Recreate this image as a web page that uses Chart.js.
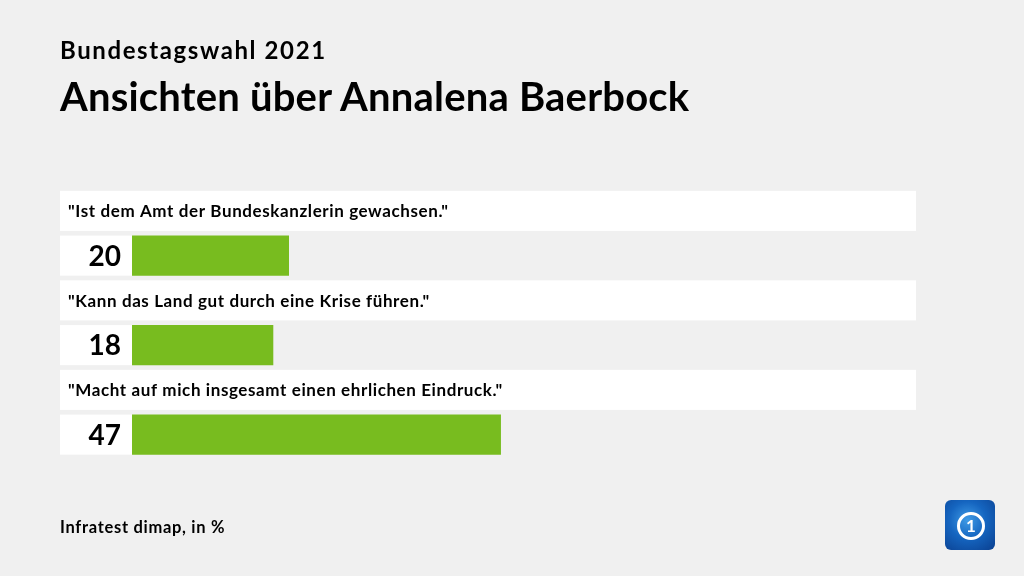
<!DOCTYPE html>
<html><head><meta charset="utf-8">
<script src="https://cdn.jsdelivr.net/npm/chart.js@4/dist/chart.umd.min.js"></script>
<style>
html,body{margin:0;padding:0;background:#f0f0f0;width:1024px;height:576px;overflow:hidden;font-family:Lato,"Open Sans",sans-serif;}
#wrap{position:absolute;left:0;top:0;width:1024px;height:576px;}
.t{position:absolute;left:60px;color:#000;font-weight:700;white-space:nowrap;}
#sub{top:35px;font-size:24px;letter-spacing:1.6px;}
#title{top:72px;font-size:40px;letter-spacing:0.2px;}
#foot{top:517px;font-size:16.5px;letter-spacing:0.7px;}
#logo{position:absolute;left:945px;top:500px;width:50px;height:50px;border-radius:6px;
background:radial-gradient(circle at 45% 40%,#3f9be6 0%,#1565c0 45%,#0a3f8f 100%);}
#logo .c{position:absolute;left:12px;top:12px;width:22px;height:22px;border:3px solid #fff;border-radius:50%;
color:#fff;font:700 17px Lato,sans-serif;text-align:center;line-height:22px;}
</style></head>
<body>
<div id="wrap"><canvas id="c" width="1024" height="576"></canvas></div>
<div class="t" id="sub">Bundestagswahl 2021</div>
<div class="t" id="title">Ansichten über Annalena Baerbock</div>
<div class="t" id="foot">Infratest dimap, in %</div>
<div id="logo"><div class="c">1</div></div>
<script>
const categories = ['"Ist dem Amt der Bundeskanzlerin gewachsen."', '"Kann das Land gut durch eine Krise führen."', '"Macht auf mich insgesamt einen ehrlichen Eindruck."'];
const values = [20, 18, 47];
const placeholder = [null, null, null];
const barColor = '#78bc1f';

const boxes = {
  id: 'boxes',
  beforeDatasetsDraw(chart) {
    const ctx = chart.ctx;
    const meta = chart.getDatasetMeta(1);
    const x0 = chart.scales.x.left;
    ctx.save();
    meta.data.forEach((el, i) => {
      const h = el.height;
      const slot = chart.scales.y.height / categories.length / 2;
      // label box
      const ly = el.y - slot;
      ctx.fillStyle = '#ffffff';
      ctx.fillRect(60, ly - h / 2, 856, h);
      ctx.fillStyle = '#000';
      ctx.font = '700 17px Lato, sans-serif';
      ctx.letterSpacing = '0.6px';
      ctx.textBaseline = 'middle';
      ctx.textAlign = 'left';
      ctx.fillText(categories[i], 68, ly + 1);
      // value box
      ctx.fillStyle = '#ffffff';
      ctx.fillRect(60, el.y - h / 2, x0 - 60, h);
      ctx.fillStyle = '#000';
      ctx.font = '700 28px Lato, sans-serif';
      ctx.letterSpacing = '0px';
      ctx.textAlign = 'right';
      ctx.fillText(String(values[i]), 121, el.y + 1);
    });
    ctx.restore();
  }
};

new Chart(document.getElementById('c'), {
  type: 'bar',
  data: {
    labels: categories,
    datasets: [
      { label: 'placeholder', data: placeholder, backgroundColor: 'rgba(0,0,0,0)' },
      { label: 'Werte', data: values, backgroundColor: barColor }
    ]
  },
  options: {
    indexAxis: 'y',
    responsive: false,
    animation: false,
    events: [],
    layout: { padding: { left: 132, right: 107, top: 188.5, bottom: 119 } },
    datasets: { bar: { categoryPercentage: 1, barPercentage: 0.895 } },
    scales: {
      x: { display: false, min: 0, max: 100 },
      y: { display: false }
    },
    plugins: { legend: { display: false }, tooltip: { enabled: false }, title: { display: false } }
  },
  plugins: [boxes]
});
</script>
</body></html>
